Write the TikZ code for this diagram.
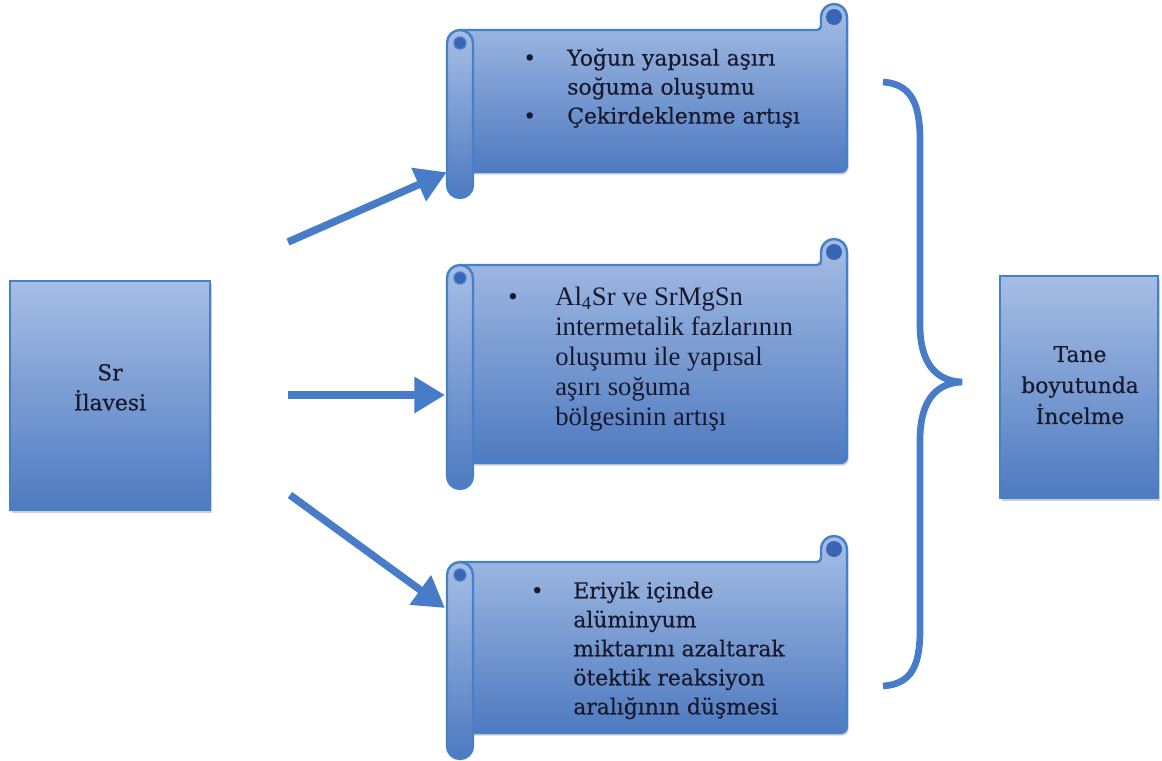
\documentclass[tikz,border=0pt]{standalone}
\usepackage{fontspec}
\setmainfont{Liberation Serif}
\newfontfamily\cambria[FakeBold=0.35]{DejaVu Serif}
\usetikzlibrary{arrows.meta,shadows}
\definecolor{topc}{RGB}{166,190,229}
\definecolor{botc}{RGB}{78,122,192}
\definecolor{edgec}{RGB}{68,128,204}
\definecolor{arrc}{RGB}{70,124,200}
\definecolor{curlc}{RGB}{58,100,180}
\definecolor{txtc}{RGB}{25,25,45}
\tikzset{
  shapest/.style={draw=edgec, line width=1.8pt, top color=topc, bottom color=botc},
  shad/.style={drop shadow={shadow xshift=1.2pt, shadow yshift=-2pt, opacity=.3, fill=black!60}},
  boxst/.style={shapest, shad, inner sep=0pt},
  txt/.style={inner sep=0pt, text=txtc},
  arrowst/.style={arrc, line width=5.6pt, -{Triangle[length=23pt, width=26pt]}},
  bracest/.style={arrc, line width=5pt},
  hold/.style={inner sep=0pt, draw=none}
}
\def\rr{13}
\newcommand\scrollshape[4]{%
  \draw[shapest, shad, rounded corners=3pt] ({#1+\rr},#2) -- ({#3-2*\rr},#2) [sharp corners] -- ({#3-2*\rr},{#2-\rr})
     arc[start angle=180, end angle=360, radius=\rr] [rounded corners=5pt] -- (#3,#4) -- ({#1+\rr},#4) [sharp corners] -- cycle;
  \fill[curlc] ({#3-\rr},{#2-\rr}) circle[radius=8];
  \draw[shapest] (#1,{#4+\rr}) -- (#1,{#2+\rr})
     arc[start angle=180, end angle=360, radius=\rr] -- ({#1+2*\rr},{#4+\rr})
     arc[start angle=0, end angle=180, radius=\rr] -- cycle;
  \draw[edgec, line width=1pt, fill=curlc] ({#1+\rr},{#2+\rr}) circle[radius=6];
}
\begin{document}
\begin{tikzpicture}[x=0.75pt,y=-0.75pt]
\useasboundingbox[fill=white] (0,0) rectangle (1162,760);

% left and right boxes
\node[boxst, minimum width=150pt, minimum height=171.75pt] (sr) at (110,395.5) {};
\node[txt, anchor=north] (srt) at (110,359)
  {\cambria\fontsize{16.4pt}{22.5pt}\selectfont\begin{tabular}{@{}c@{}}Sr\\İlavesi\end{tabular}};

\node[boxst, minimum width=118.5pt, minimum height=166.5pt] (tane) at (1079,387) {};
\node[txt, anchor=north] (tanet) at (1080,340)
  {\cambria\fontsize{16.4pt}{23.25pt}\selectfont\begin{tabular}{@{}c@{}}Tane\\boyutunda\\İncelme\end{tabular}};

% scrolls
\scrollshape{447}{30}{847}{172}
\node[hold, minimum width=300pt, minimum height=106.5pt] (s1) at (647,101) {};
\node[txt, anchor=north west] (s1t) at (523,45)
  {\cambria\fontsize{16.4pt}{21.75pt}\selectfont\begin{tabular}{@{}p{33pt}@{}l@{}}
  \textbullet & Yoğun yapısal aşırı\\
   & soğuma oluşumu\\
  \textbullet & Çekirdeklenme artışı
  \end{tabular}};

\scrollshape{447}{265}{847}{463}
\node[hold, minimum width=300pt, minimum height=148.5pt] (s2) at (647,364) {};
\node[txt, anchor=north west] (s2t) at (508,284)
  {\fontsize{20pt}{22.5pt}\selectfont\begin{tabular}{@{}p{35.25pt}@{}l@{}}
  \textbullet & Al\textsubscript{4}Sr ve SrMgSn\\
   & intermetalik fazlarının\\
   & oluşumu ile yapısal\\
   & aşırı soğuma\\
   & bölgesinin artışı
  \end{tabular}};

\scrollshape{447}{562}{847}{733}
\node[hold, minimum width=300pt, minimum height=128.25pt] (s3) at (647,647.5) {};
\node[txt, anchor=north west] (s3t) at (530.5,577.7)
  {\cambria\fontsize{16.4pt}{21.75pt}\selectfont\begin{tabular}{@{}p{31.9pt}@{}l@{}}
  \textbullet & Eriyik içinde\\
   & alüminyum\\
   & miktarını azaltarak\\
   & ötektik reaksiyon\\
   & aralığının düşmesi
  \end{tabular}};

% arrows
\coordinate (a1) at (288,242);
\coordinate (a2) at (288,395);
\coordinate (a3) at (290,495);
\coordinate (e2) at (445,395);
\coordinate (e3) at (445,608);
\draw[arrowst] (a1) -- (s1.south west);
\draw[arrowst] (a2) -- (e2);
\draw[arrowst] (a3) -- (e3);

% brace
\draw[bracest] (883,82) .. controls (912,84) and (920,105) .. (920,140) -- (920,325)
  .. controls (920,362) and (935,381) .. (962,382)
  .. controls (935,383) and (920,402) .. (920,440) -- (920,630)
  .. controls (920,665) and (912,684) .. (883,686);
\end{tikzpicture}
\end{document}
